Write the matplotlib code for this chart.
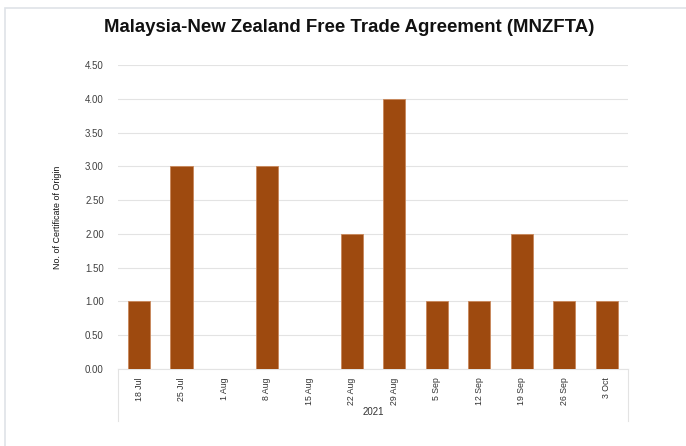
import matplotlib
matplotlib.use('Agg')
import matplotlib.pyplot as plt
from matplotlib.lines import Line2D
from matplotlib.patches import Rectangle

weeks = ['18 Jul', '25 Jul', '1 Aug', '8 Aug', '15 Aug', '22 Aug', '29 Aug',
         '5 Sep', '12 Sep', '19 Sep', '26 Sep', '3 Oct']
certificates = [1, 3, 0, 3, 0, 2, 4, 1, 1, 2, 1, 1]
yticks = [0, 0.5, 1, 1.5, 2, 2.5, 3, 3.5, 4, 4.5]
year_label = '2021'

W, H = 686, 446
font = 'Liberation Sans'

fig = plt.figure(figsize=(W / 100, H / 100), dpi=100)
fig.patch.set_facecolor('white')

# outer chart border
fig.add_artist(Rectangle((5 / W, -0.1), 1.2, 1 - 8 / H + 0.1, transform=fig.transFigure,
                         fill=False, edgecolor='#dfe3e8', lw=1.2))

left, right, top, bottom = 117.75, 628, 65, 369
ax = fig.add_axes([left / W, 1 - bottom / H, (right - left) / W, (bottom - top) / H])
x = range(len(weeks))
ax.bar(x, certificates, width=0.52, color='#9e4a0f', edgecolor='#c9875a', linewidth=0.6, zorder=3)

ax.set_xlim(-0.5, len(weeks) - 0.5)
ax.set_ylim(0, 4.5)
ax.set_yticks(yticks)
ax.set_yticklabels([f'{v:.2f}' for v in yticks], fontsize=7, family=font, color='#404040')
ax.set_xticks(list(x))
ax.set_xticklabels(weeks, rotation=90, fontsize=6.3, family=font, color='#333333')
ax.tick_params(axis='y', length=0, pad=10)
ax.tick_params(axis='x', length=0, pad=6)
ax.grid(axis='y', color='#e3e3e3', lw=0.8, zorder=0)
for s in ['top', 'right', 'left']:
    ax.spines[s].set_visible(False)
ax.spines['bottom'].set_color('#e3e3e3')
ax.spines['bottom'].set_linewidth(0.8)

fig.text(57 / W, 1 - (top + bottom) / 2 / H, 'No. of Certificate of Origin', rotation=90,
         ha='center', va='center', fontsize=6.4, family=font, color='#111111')

# category axis box
for px in (left, right):
    fig.add_artist(Line2D([px / W, px / W], [1 - bottom / H, 1 - 421 / H], transform=fig.transFigure,
                          color='#e3e3e3', lw=0.8))
fig.text((left + right) / 2 / W, 1 - 412 / H, year_label, ha='center', va='center',
         fontsize=7, family=font, color='#333333')

fig.text(349.5 / W, 1 - 28 / H,
         'Malaysia-New Zealand Free Trade Agreement (MNZFTA)',
         ha='center', va='center', fontsize=13.4, fontweight='bold', family=font, color='#111111')

fig.savefig('out.png', dpi=100)
